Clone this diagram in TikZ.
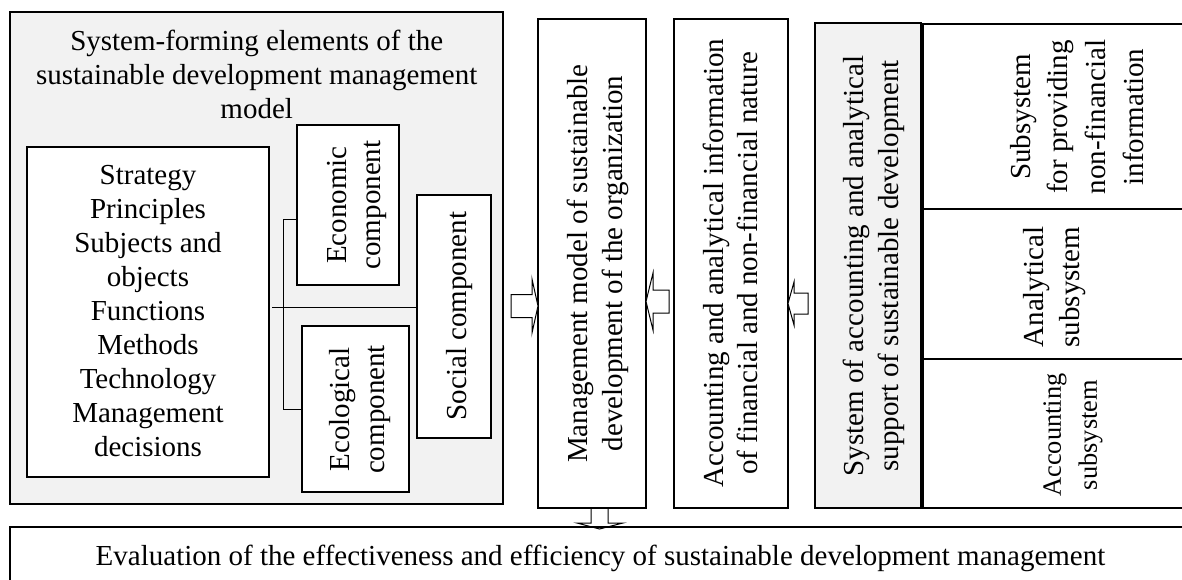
\documentclass[tikz,border=0pt]{standalone}
\usepackage{fontspec}
\setmainfont{Liberation Serif}
\usetikzlibrary{calc}
\definecolor{panelgray}{RGB}{242,242,242}
\tikzset{
  box/.style={draw, line width=1.2pt, inner sep=0pt, outer sep=0pt, anchor=north west},
  txt/.style={inner sep=0pt, outer sep=0pt, align=center},
  vtxt/.style={txt, rotate=90},
  link/.style={line width=1pt},
  blockarrow/.style={draw, line width=1pt, fill=white, line join=miter},
}
\newcommand{\fs}[2]{\fontsize{#1}{#2}\selectfont}
\begin{document}
\begin{tikzpicture}[x=1pt, y=-1pt]
\useasboundingbox (0,0) rectangle (1182,580);
\clip (0,0) rectangle (1182,580);

% left panel
\node[box, fill=panelgray, minimum width=493pt, minimum height=492pt] (sfe) at (10,12) {};
\node[txt, font=\fs{29}{33.8}] (title) at (256.7,74.7)
  {System-forming elements of the\\sustainable development management\\model};
\node[box, fill=white, minimum width=242pt, minimum height=330pt] (strat) at (27,147) {};
\node[txt, font=\fs{29}{34}] (strattxt) at (148,311.5)
  {Strategy\\Principles\\Subjects and\\objects\\Functions\\Methods\\Technology\\Management\\decisions};
\node[box, fill=white, minimum width=102pt, minimum height=160pt] (econ) at (297,125) {};
\node[vtxt, font=\fs{29}{33.8}] (econtxt) at (356.8,205) {Economic\\component};
\node[box, fill=white, minimum width=74pt, minimum height=243pt] (social) at (417,195) {};
\node[vtxt, font=\fs{29}{34}] (socialtxt) at (460,316) {Social component};
\node[box, fill=white, minimum width=107pt, minimum height=166pt] (ecol) at (302,326) {};
\node[vtxt, font=\fs{29}{35}] (ecoltxt) at (360,409.5) {Ecological\\component};

% component connectors
\coordinate (bus) at (283,307);
\coordinate (vtop) at (283,219);
\coordinate (vbot) at (283,409);
\draw[link] ([xshift=3pt]strat.east |- bus) -- (social.west |- bus);
\draw[link] (econ.west |- vtop) -- (vtop) -- (vbot) -- (ecol.west |- vbot);

% central columns
\node[box, fill=white, minimum width=108pt, minimum height=489pt] (mgmt) at (538,19) {};
\node[vtxt, font=\fs{29}{35.5}] (mgmttxt) at (598,263.5)
  {Management model of sustainable\\development of the organization};
\node[box, fill=white, minimum width=114pt, minimum height=489pt] (accinfo) at (674,19) {};
\node[vtxt, font=\fs{29}{34}] (acctxt) at (730.7,263)
  {Accounting and analytical information\\of financial and non-financial nature};
\node[box, fill=panelgray, minimum width=106pt, minimum height=485pt] (sysbox) at (815,23) {};
\node[vtxt, font=\fs{29}{35}] (systxt) at (873.7,266)
  {System of accounting and analytical\\support of sustainable development};

% right subsystems
\node[box, fill=white, minimum width=317pt, minimum height=185pt] (subnf) at (923,24) {};
\node[vtxt, font=\fs{29}{37.7}] (nftxt) at (1076.7,117)
  {Subsystem\\for providing\\non-financial\\information};
\node[box, fill=white, minimum width=317pt, minimum height=150pt] (suban) at (923,209) {};
\node[vtxt, font=\fs{29}{36}] (antxt) at (1055,287) {Analytical\\subsystem};
\node[box, fill=white, minimum width=317pt, minimum height=149pt] (subac) at (923,359) {};
\node[vtxt, font=\fs{26.4}{36}] (actxt) at (1072.9,435) {Accounting\\subsystem};

% bottom box
\node[box, line width=2pt, minimum width=1230pt, minimum height=113pt] (evalbox) at (9.5,526.5) {};
\node[txt, font=\fs{29}{34}] (evaltxt) at (600.5,558.3)
  {Evaluation of the effectiveness and efficiency of sustainable development management};

% block arrows
\coordinate (a1tip) at (mgmt.west |- 0,306);
\draw[blockarrow] (a1tip) -- ++(-6,-27) -- ++(0,15.5) -- ++(-21,0) -- ++(0,23)
  -- ++(21,0) -- ++(0,15.5) -- cycle;
\coordinate (a2tip) at (mgmt.east |- 0,301.5);
\draw[blockarrow] (a2tip) -- ++(7,-28.5) -- ++(0,17) -- ++(16,0) -- ++(0,23)
  -- ++(-16,0) -- ++(0,17) -- cycle;
\coordinate (a3tip) at (accinfo.east |- 0,303.5);
\draw[blockarrow] (a3tip) -- ++(6,-21.5) -- ++(0,11) -- ++(14,0) -- ++(0,21)
  -- ++(-14,0) -- ++(0,11) -- cycle;
\coordinate (dtop) at ($(mgmt.south)+(7.5,0)$);
\draw[line width=1pt, line join=miter] (dtop) ++(-8.5,0) -- ++(0,15) -- ++(-14,0)
  -- ++(22.5,6) -- ++(23.5,-6) -- ++(-15,0) -- ++(0,-15);
\end{tikzpicture}
\end{document}
